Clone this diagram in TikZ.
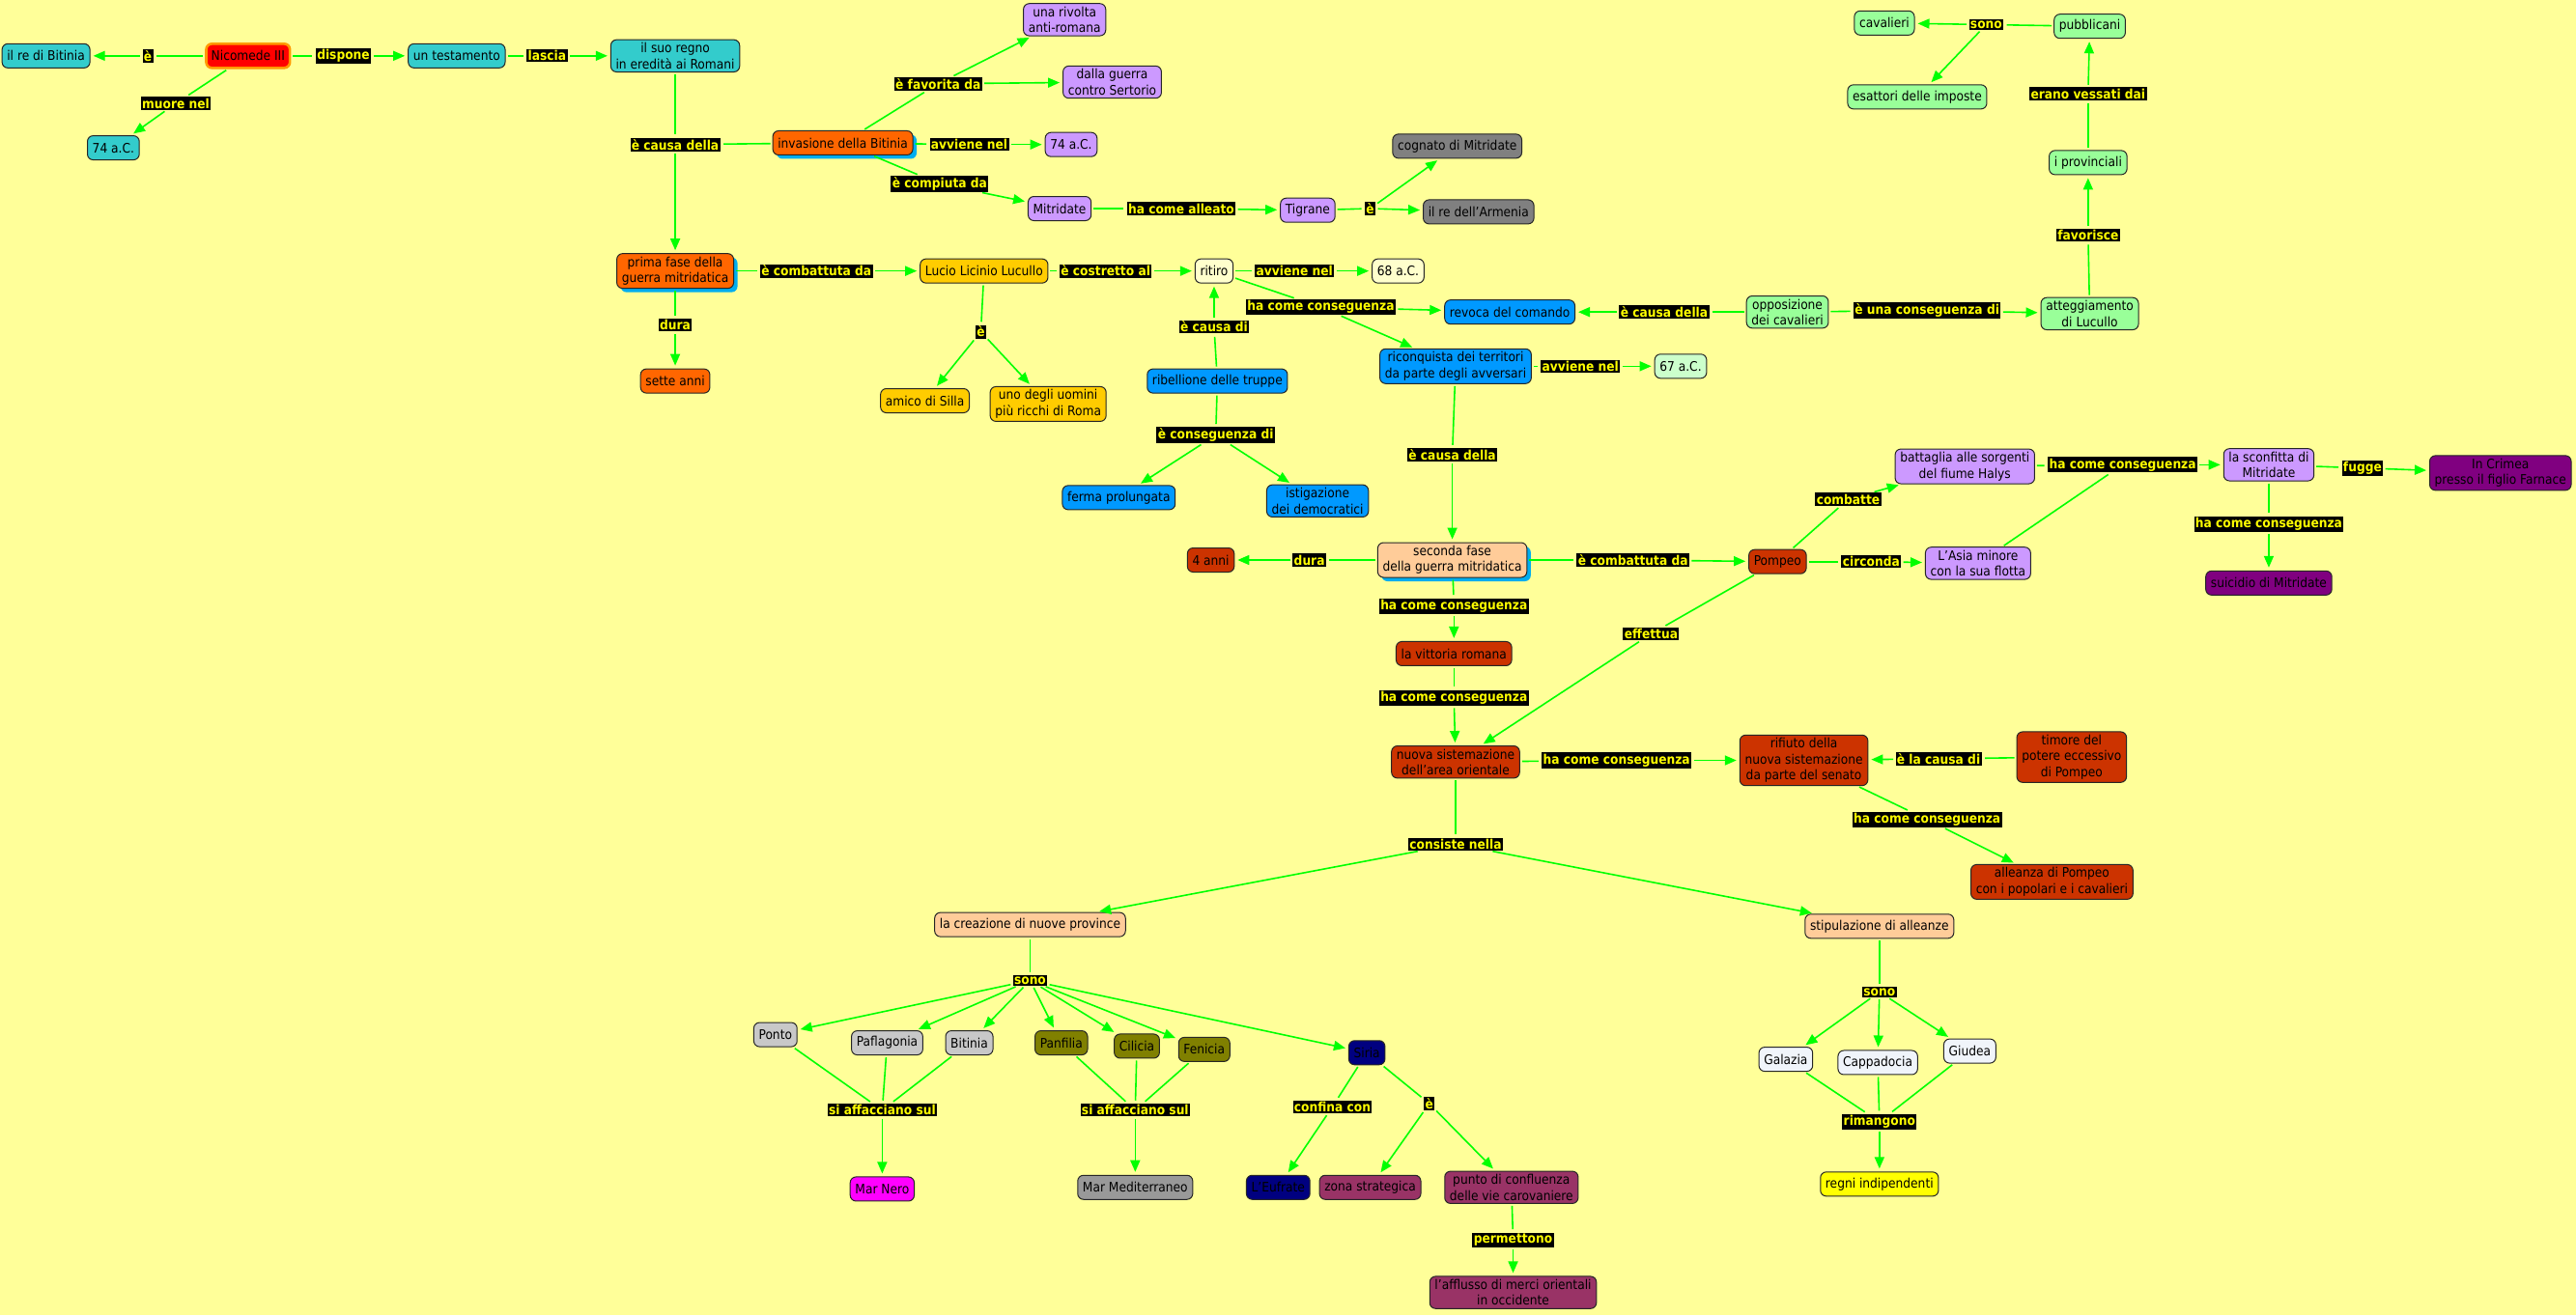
\documentclass[tikz,border=0pt]{standalone}
\usepackage{fontspec}
\setmainfont{DejaVu Sans Condensed}
\usepackage{tikz}
\usetikzlibrary{arrows.meta,shadows}
\definecolor{paper}{HTML}{FFFF99}
\definecolor{linkgreen}{HTML}{00FF00}
\definecolor{phrasetext}{HTML}{FFFF00}
\definecolor{cmteal}{HTML}{33CCCC}
\definecolor{nicored}{HTML}{FF0000}
\definecolor{nicoring}{HTML}{FF9900}
\definecolor{flame}{HTML}{FF6600}
\definecolor{lavender}{HTML}{CC99FF}
\definecolor{stone}{HTML}{808080}
\definecolor{ash}{HTML}{999999}
\definecolor{silver}{HTML}{C8C8C8}
\definecolor{gold}{HTML}{FFCC00}
\definecolor{cream}{HTML}{FFFFCC}
\definecolor{sky}{HTML}{0099FF}
\definecolor{mint}{HTML}{CCFFCC}
\definecolor{leaf}{HTML}{99FF99}
\definecolor{peach}{HTML}{FFCC99}
\definecolor{brick}{HTML}{CC3300}
\definecolor{plum}{HTML}{800080}
\definecolor{cmolive}{HTML}{808000}
\definecolor{cmnavy}{HTML}{000080}
\definecolor{wine}{HTML}{993366}
\definecolor{fuchsia}{HTML}{FF00FF}
\definecolor{ice}{HTML}{F0F4FA}
\definecolor{lemon}{HTML}{FFFF00}

\begin{document}
\begin{tikzpicture}[x=0.85pt,y=-0.85pt,
  concept/.style={draw=black!85,line width=0.5pt,rounded corners=3pt,align=center,
    inner xsep=2.6pt,inner ysep=1.6pt,minimum height=12.5pt,
    font=\fontsize{6.8}{8.2}\selectfont},
  phrase/.style={fill=black,text=phrasetext,inner sep=0.7pt,
    font=\fontsize{6.8}{8}\selectfont\bfseries},
  linkline/.style={draw=linkgreen,line width=0.8pt,shorten <=1pt,shorten >=1.5pt},
  linkarrow/.style={linkline,-{Triangle[length=6pt,width=5pt]}},
  glow/.style={drop shadow={shadow xshift=2pt,shadow yshift=-2pt,fill=cyan,opacity=1}}]

  \useasboundingbox (0,0) rectangle (1568,801);
  \fill[paper] (0,0) rectangle (1568,801);

  % Nicomede and the first phase of the war.
  \node[concept,fill=cmteal] (rebitinia) at (28,34) {il re di Bitinia};
  \node[concept,fill=nicored,draw=nicoring,line width=1.3pt] (nicomede) at (151,34) {Nicomede III};
  \node[concept,fill=cmteal] (testamento) at (278,34) {un testamento};
  \node[concept,fill=cmteal] (regno) at (411,34) {il suo regno\\in eredità ai Romani};
  \node[concept,fill=cmteal] (anno74a) at (69,90) {74 a.C.};
  \node[concept,fill=flame,glow] (invasione) at (513,87) {invasione della Bitinia};
  \node[concept,fill=flame,glow] (primafase) at (411,165) {prima fase della\\guerra mitridatica};
  \node[concept,fill=flame] (setteanni) at (411,232) {sette anni};
  \node[concept,fill=lavender] (rivolta) at (648,12) {una rivolta\\anti-romana};
  \node[concept,fill=lavender] (sertorio) at (677,50) {dalla guerra\\contro Sertorio};
  \node[concept,fill=lavender] (anno74b) at (652,88) {74 a.C.};
  \node[concept,fill=lavender] (mitridate) at (645,127) {Mitridate};
  \node[concept,fill=lavender] (tigrane) at (796,128) {Tigrane};
  \node[concept,fill=stone] (cognato) at (887,89) {cognato di Mitridate};
  \node[concept,fill=stone] (armenia) at (900,129) {il re dell'Armenia};

  % Lucullo, the retreat and the knights.
  \node[concept,fill=gold] (lucullo) at (599,165) {Lucio Licinio Lucullo};
  \node[concept,fill=cream] (ritiro) at (739,165) {ritiro};
  \node[concept,fill=cream] (anno68) at (851,165) {68 a.C.};
  \node[concept,fill=gold] (silla) at (563,244) {amico di Silla};
  \node[concept,fill=gold] (ricchi) at (638,246) {uno degli uomini\\più ricchi di Roma};
  \node[concept,fill=sky] (ribellione) at (741,232) {ribellione delle truppe};
  \node[concept,fill=sky] (ferma) at (681,303) {ferma prolungata};
  \node[concept,fill=sky] (istigazione) at (802,305) {istigazione\\dei democratici};
  \node[concept,fill=sky] (revoca) at (919,190) {revoca del comando};
  \node[concept,fill=sky] (riconquista) at (886,223) {riconquista dei territori\\da parte degli avversari};
  \node[concept,fill=mint] (anno67) at (1023,223) {67 a.C.};
  \node[concept,fill=leaf] (opposizione) at (1088,190) {opposizione\\dei cavalieri};
  \node[concept,fill=leaf] (atteggiamento) at (1272,191) {atteggiamento\\di Lucullo};
  \node[concept,fill=leaf] (provinciali) at (1271,99) {i provinciali};
  \node[concept,fill=leaf] (pubblicani) at (1272,16) {pubblicani};
  \node[concept,fill=leaf] (cavalieri) at (1147,14) {cavalieri};
  \node[concept,fill=leaf] (esattori) at (1167,59) {esattori delle imposte};

  % Second phase, Pompeo and the settlement.
  \node[concept,fill=peach,glow] (secondafase) at (884,341) {seconda fase\\della guerra mitridatica};
  \node[concept,fill=brick] (quattroanni) at (737,341) {4 anni};
  \node[concept,fill=brick] (pompeo) at (1082,342) {Pompeo};
  \node[concept,fill=lavender] (battaglia) at (1196,284) {battaglia alle sorgenti\\del fiume Halys};
  \node[concept,fill=lavender] (asiaminore) at (1204,343) {L'Asia minore\\con la sua flotta};
  \node[concept,fill=lavender] (sconfitta) at (1381,283) {la sconfitta di\\Mitridate};
  \node[concept,fill=plum] (crimea) at (1522,288) {In Crimea\\presso il figlio Farnace};
  \node[concept,fill=plum] (suicidio) at (1381,355) {suicidio di Mitridate};
  \node[concept,fill=brick] (vittoria) at (885,398) {la vittoria romana};
  \node[concept,fill=brick] (sistemazione) at (886,464) {nuova sistemazione\\dell'area orientale};
  \node[concept,fill=brick] (rifiuto) at (1098,463) {rifiuto della\\nuova sistemazione\\da parte del senato};
  \node[concept,fill=brick] (timore) at (1261,461) {timore del\\potere eccessivo\\di Pompeo};
  \node[concept,fill=brick] (alleanza) at (1249,537) {alleanza di Pompeo\\con i popolari e i cavalieri};
  \node[concept,fill=peach] (creazione) at (627,563) {la creazione di nuove province};
  \node[concept,fill=peach] (stipulazione) at (1144,564) {stipulazione di alleanze};

  % Provinces and allied kingdoms.
  \node[concept,fill=silver] (ponto) at (472,630) {Ponto};
  \node[concept,fill=silver] (paflagonia) at (540,635) {Paflagonia};
  \node[concept,fill=silver] (bitinia) at (590,635) {Bitinia};
  \node[concept,fill=cmolive] (panfilia) at (646,635) {Panfilia};
  \node[concept,fill=cmolive] (cilicia) at (692,637) {Cilicia};
  \node[concept,fill=cmolive] (fenicia) at (733,639) {Fenicia};
  \node[concept,fill=cmnavy] (siria) at (832,641) {Siria};
  \node[concept,fill=fuchsia] (marnero) at (537,724) {Mar Nero};
  \node[concept,fill=ash] (mediterraneo) at (691,723) {Mar Mediterraneo};
  \node[concept,fill=cmnavy] (eufrate) at (778,723) {L'Eufrate};
  \node[concept,fill=wine] (strategica) at (834,723) {zona strategica};
  \node[concept,fill=wine] (confluenza) at (920,723) {punto di confluenza\\delle vie carovaniere};
  \node[concept,fill=wine] (afflusso) at (921,787) {l'afflusso di merci orientali\\in occidente};
  \node[concept,fill=ice] (galazia) at (1087,645) {Galazia};
  \node[concept,fill=ice] (cappadocia) at (1143,647) {Cappadocia};
  \node[concept,fill=ice] (giudea) at (1199,640) {Giudea};
  \node[concept,fill=lemon] (regni) at (1144,721) {regni indipendenti};

  % Linking phrases.
  \node[phrase] (pE1) at (90,34) {è};
  \node[phrase] (pDispone) at (209,34) {dispone};
  \node[phrase] (pLascia) at (333,34) {lascia};
  \node[phrase] (pMuore) at (107,63) {muore nel};
  \node[phrase] (pCausa1) at (411,88) {è causa della};
  \node[phrase] (pDura1) at (411,198) {dura};
  \node[phrase] (pFavorita) at (571,51) {è favorita da};
  \node[phrase] (pAvviene1) at (590,88) {avviene nel};
  \node[phrase] (pCompiuta) at (572,112) {è compiuta da};
  \node[phrase] (pAlleato) at (719,127) {ha come alleato};
  \node[phrase] (pE2) at (834,127) {è};
  \node[phrase] (pCombattuta1) at (497,165) {è combattuta da};
  \node[phrase] (pCostretto) at (673,165) {è costretto al};
  \node[phrase] (pAvviene2) at (788,165) {avviene nel};
  \node[phrase] (pE3) at (597,202) {è};
  \node[phrase] (pCausaDi) at (739,199) {è causa di};
  \node[phrase] (pConseguenzaDi) at (740,265) {è conseguenza di};
  \node[phrase] (pConseguenza1) at (804,187) {ha come conseguenza};
  \node[phrase] (pAvviene3) at (962,223) {avviene nel};
  \node[phrase] (pCausa2) at (1013,190) {è causa della};
  \node[phrase] (pUnaConseguenza) at (1173,189) {è una conseguenza di};
  \node[phrase] (pFavorisce) at (1271,143) {favorisce};
  \node[phrase] (pVessati) at (1271,57) {erano vessati dai};
  \node[phrase] (pSono1) at (1209,15) {sono};
  \node[phrase] (pCausa3) at (884,277) {è causa della};
  \node[phrase] (pDura2) at (797,341) {dura};
  \node[phrase] (pCombattuta2) at (994,341) {è combattuta da};
  \node[phrase] (pCombatte) at (1125,304) {combatte};
  \node[phrase] (pCirconda) at (1139,342) {circonda};
  \node[phrase] (pConseguenza2) at (1292,283) {ha come conseguenza};
  \node[phrase] (pFugge) at (1438,285) {fugge};
  \node[phrase] (pConseguenza3) at (1381,319) {ha come conseguenza};
  \node[phrase] (pConseguenza4) at (885,369) {ha come conseguenza};
  \node[phrase] (pConseguenza5) at (885,425) {ha come conseguenza};
  \node[phrase] (pEffettua) at (1005,386) {effettua};
  \node[phrase] (pConseguenza6) at (984,463) {ha come conseguenza};
  \node[phrase] (pCausaLa) at (1180,462) {è la causa di};
  \node[phrase] (pConseguenza7) at (1173,499) {ha come conseguenza};
  \node[phrase] (pConsiste) at (886,514) {consiste nella};
  \node[phrase] (pSono2) at (627,597) {sono};
  \node[phrase] (pAffacciano1) at (537,676) {si affacciano sul};
  \node[phrase] (pAffacciano2) at (691,676) {si affacciano sul};
  \node[phrase] (pConfina) at (811,674) {confina con};
  \node[phrase] (pE4) at (870,672) {è};
  \node[phrase] (pPermettono) at (921,755) {permettono};
  \node[phrase] (pSono3) at (1144,604) {sono};
  \node[phrase] (pRimangono) at (1144,683) {rimangono};

  % Connectors: concept -- phrase, phrase -> concept.
  \draw[linkline] (nicomede) -- (pE1);       \draw[linkarrow] (pE1) -- (rebitinia);
  \draw[linkline] (nicomede) -- (pDispone);  \draw[linkarrow] (pDispone) -- (testamento);
  \draw[linkline] (nicomede) -- (pMuore);    \draw[linkarrow] (pMuore) -- (anno74a);
  \draw[linkline] (testamento) -- (pLascia); \draw[linkarrow] (pLascia) -- (regno);
  \draw[linkline] (regno) -- (pCausa1);      \draw[linkline] (invasione) -- (pCausa1);
  \draw[linkarrow] (pCausa1) -- (primafase);
  \draw[linkline] (primafase) -- (pDura1);   \draw[linkarrow] (pDura1) -- (setteanni);
  \draw[linkline] (invasione) -- (pFavorita);
  \foreach \dst in {rivolta,sertorio} \draw[linkarrow] (pFavorita) -- (\dst);
  \draw[linkline] (invasione) -- (pAvviene1); \draw[linkarrow] (pAvviene1) -- (anno74b);
  \draw[linkline] (invasione) -- (pCompiuta); \draw[linkarrow] (pCompiuta) -- (mitridate);
  \draw[linkline] (mitridate) -- (pAlleato);  \draw[linkarrow] (pAlleato) -- (tigrane);
  \draw[linkline] (tigrane) -- (pE2);
  \foreach \dst in {cognato,armenia} \draw[linkarrow] (pE2) -- (\dst);

  \draw[linkline] (primafase) -- (pCombattuta1); \draw[linkarrow] (pCombattuta1) -- (lucullo);
  \draw[linkline] (lucullo) -- (pCostretto);     \draw[linkarrow] (pCostretto) -- (ritiro);
  \draw[linkline] (lucullo) -- (pE3);
  \foreach \dst in {silla,ricchi} \draw[linkarrow] (pE3) -- (\dst);
  \draw[linkline] (ritiro) -- (pAvviene2);       \draw[linkarrow] (pAvviene2) -- (anno68);
  \draw[linkline] (ritiro) -- (pConseguenza1);
  \foreach \dst in {revoca,riconquista} \draw[linkarrow] (pConseguenza1) -- (\dst);
  \draw[linkline] (ribellione) -- (pCausaDi);    \draw[linkarrow] (pCausaDi) -- (ritiro);
  \draw[linkline] (ribellione) -- (pConseguenzaDi);
  \foreach \dst in {ferma,istigazione} \draw[linkarrow] (pConseguenzaDi) -- (\dst);
  \draw[linkline] (riconquista) -- (pAvviene3);  \draw[linkarrow] (pAvviene3) -- (anno67);
  \draw[linkline] (opposizione) -- (pCausa2);    \draw[linkarrow] (pCausa2) -- (revoca);
  \draw[linkline] (opposizione) -- (pUnaConseguenza); \draw[linkarrow] (pUnaConseguenza) -- (atteggiamento);
  \draw[linkline] (atteggiamento) -- (pFavorisce); \draw[linkarrow] (pFavorisce) -- (provinciali);
  \draw[linkline] (provinciali) -- (pVessati);   \draw[linkarrow] (pVessati) -- (pubblicani);
  \draw[linkline] (pubblicani) -- (pSono1);
  \foreach \dst in {cavalieri,esattori} \draw[linkarrow] (pSono1) -- (\dst);

  \draw[linkline] (riconquista) -- (pCausa3);    \draw[linkarrow] (pCausa3) -- (secondafase);
  \draw[linkline] (secondafase) -- (pDura2);     \draw[linkarrow] (pDura2) -- (quattroanni);
  \draw[linkline] (secondafase) -- (pCombattuta2); \draw[linkarrow] (pCombattuta2) -- (pompeo);
  \draw[linkline] (pompeo) -- (pCombatte);       \draw[linkarrow] (pCombatte) -- (battaglia);
  \draw[linkline] (pompeo) -- (pCirconda);       \draw[linkarrow] (pCirconda) -- (asiaminore);
  \draw[linkline] (battaglia) -- (pConseguenza2); \draw[linkline] (asiaminore) -- (pConseguenza2);
  \draw[linkarrow] (pConseguenza2) -- (sconfitta);
  \draw[linkline] (sconfitta) -- (pFugge);       \draw[linkarrow] (pFugge) -- (crimea);
  \draw[linkline] (sconfitta) -- (pConseguenza3); \draw[linkarrow] (pConseguenza3) -- (suicidio);
  \draw[linkline] (secondafase) -- (pConseguenza4); \draw[linkarrow] (pConseguenza4) -- (vittoria);
  \draw[linkline] (vittoria) -- (pConseguenza5); \draw[linkarrow] (pConseguenza5) -- (sistemazione);
  \draw[linkline] (pompeo) -- (pEffettua);       \draw[linkarrow] (pEffettua) -- (sistemazione);
  \draw[linkline] (sistemazione) -- (pConseguenza6); \draw[linkarrow] (pConseguenza6) -- (rifiuto);
  \draw[linkline] (timore) -- (pCausaLa);        \draw[linkarrow] (pCausaLa) -- (rifiuto);
  \draw[linkline] (rifiuto) -- (pConseguenza7);  \draw[linkarrow] (pConseguenza7) -- (alleanza);
  \draw[linkline] (sistemazione) -- (pConsiste);
  \foreach \dst in {creazione,stipulazione} \draw[linkarrow] (pConsiste) -- (\dst);

  \draw[linkline] (creazione) -- (pSono2);
  \foreach \dst in {ponto,paflagonia,bitinia,panfilia,cilicia,fenicia,siria}
    \draw[linkarrow] (pSono2) -- (\dst);
  \foreach \src in {ponto,paflagonia,bitinia} \draw[linkline] (\src) -- (pAffacciano1);
  \draw[linkarrow] (pAffacciano1) -- (marnero);
  \foreach \src in {panfilia,cilicia,fenicia} \draw[linkline] (\src) -- (pAffacciano2);
  \draw[linkarrow] (pAffacciano2) -- (mediterraneo);
  \draw[linkline] (siria) -- (pConfina);         \draw[linkarrow] (pConfina) -- (eufrate);
  \draw[linkline] (siria) -- (pE4);
  \foreach \dst in {strategica,confluenza} \draw[linkarrow] (pE4) -- (\dst);
  \draw[linkline] (confluenza) -- (pPermettono); \draw[linkarrow] (pPermettono) -- (afflusso);
  \draw[linkline] (stipulazione) -- (pSono3);
  \foreach \dst in {galazia,cappadocia,giudea} \draw[linkarrow] (pSono3) -- (\dst);
  \foreach \src in {galazia,cappadocia,giudea} \draw[linkline] (\src) -- (pRimangono);
  \draw[linkarrow] (pRimangono) -- (regni);
\end{tikzpicture}
\end{document}
